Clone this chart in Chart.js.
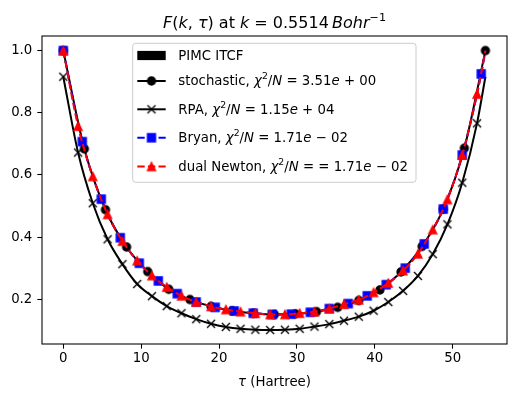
<!DOCTYPE html>
<html><head><meta charset="utf-8">
<script src="https://cdn.jsdelivr.net/npm/chart.js@4.4.0/dist/chart.umd.min.js"></script>
<style>html,body{margin:0;padding:0;background:#fff;}canvas{display:block;}</style>
</head><body>
<canvas id="c" width="516" height="399"></canvas>
<script>
// ---------------- data ----------------
const xTicks = [0, 10, 20, 30, 40, 50];
const yTicks = [0.2, 0.4, 0.6, 0.8, 1.0];

const tauStoch = [0, 2.71, 5.42, 8.13, 10.84, 13.55, 16.26, 18.97, 21.68, 24.39, 27.10, 29.81, 32.52, 35.23, 37.94, 40.65, 43.36, 46.07, 48.78, 51.49, 54.20];
const valStoch = [1.000, 0.684, 0.488, 0.368, 0.289, 0.232, 0.199, 0.177, 0.163, 0.155, 0.151, 0.153, 0.160, 0.174, 0.196, 0.230, 0.288, 0.370, 0.490, 0.686, 1.000];

const tauBryan = [0, 2.44, 4.88, 7.32, 9.76, 12.20, 14.63, 17.07, 19.51, 21.95, 24.39, 26.83, 29.27, 31.71, 34.15, 36.59, 39.02, 41.46, 43.90, 46.34, 48.78, 51.22, 53.66, 54.20];
const valBryan = [1.000, 0.707, 0.522, 0.398, 0.316, 0.259, 0.218, 0.191, 0.174, 0.162, 0.155, 0.151, 0.152, 0.158, 0.170, 0.186, 0.211, 0.247, 0.300, 0.378, 0.490, 0.664, 0.925, 1.000];

const tauGrid7 = [0, 1.90, 3.79, 5.69, 7.59, 9.49, 11.38, 13.28, 15.18, 17.07, 18.97, 20.87, 22.76, 24.66, 26.56, 28.46, 30.35, 32.25, 34.15, 36.04, 37.94, 39.84, 41.73, 43.63, 45.53, 47.43, 49.32, 51.22, 53.12, 54.20];
const valNewton = [1.000, 0.757, 0.595, 0.473, 0.387, 0.324, 0.276, 0.239, 0.211, 0.191, 0.177, 0.167, 0.160, 0.155, 0.151, 0.151, 0.155, 0.160, 0.170, 0.184, 0.198, 0.222, 0.252, 0.292, 0.346, 0.424, 0.521, 0.664, 0.860, 1.000];
const valRPA = [0.916, 0.672, 0.509, 0.393, 0.313, 0.249, 0.210, 0.178, 0.155, 0.136, 0.121, 0.111, 0.105, 0.102, 0.101, 0.102, 0.105, 0.112, 0.120, 0.131, 0.144, 0.163, 0.191, 0.227, 0.275, 0.345, 0.441, 0.575, 0.766, 0.916];

// text
const titleSegs = [['F','i'],['(',''],['k','i'],[', ',''],['\u03C4','i'],[')',''],[' at ',''],['k','i'],[' = ',''],['0.5514',''],['\u2009',''],['Bohr','i'],['\u22121','s']];
const xLabelSegs = [['\u03C4','i'],[' (Hartree)','']];
const labelPIMC = [['PIMC ITCF','']];
const labelStoch = [['stochastic, ',''],['\u03C7','i'],['2','s'],['/',''],['N','i'],[' = ',''],['3.51',''],['e','i'],[' + ',''],['00','']];
const labelRPA = [['RPA, ',''],['\u03C7','i'],['2','s'],['/',''],['N','i'],[' = ',''],['1.15',''],['e','i'],[' + ',''],['04','']];
const labelBryan = [['Bryan, ',''],['\u03C7','i'],['2','s'],['/',''],['N','i'],[' = ',''],['1.71',''],['e','i'],[' \u2212 ',''],['02','']];
const labelNewton = [['dual Newton, ',''],['\u03C7','i'],['2','s'],['/',''],['N','i'],[' = = ',''],['1.71',''],['e','i'],[' \u2212 ',''],['02','']];

// ---------------- styling helpers ----------------
const FONT = '"DejaVu Sans", sans-serif';
const MS = 8, MEW = 1.33, LW = 2, DASH = [7.4, 3.2];

function mk(draw) {
  const c = document.createElement('canvas');
  c.width = 16; c.height = 16;
  const g = c.getContext('2d');
  g.translate(8, 8);
  draw(g);
  return c;
}
const mCircle = mk(g => { g.beginPath(); g.arc(0, 0, MS/2, 0, Math.PI*2); g.fillStyle = '#000'; g.fill(); g.lineWidth = MEW; g.strokeStyle = '#000'; g.stroke(); });
const mSquare = mk(g => { g.beginPath(); g.rect(-MS/2, -MS/2, MS, MS); g.fillStyle = '#0000ff'; g.fill(); g.lineWidth = MEW; g.strokeStyle = '#0000ff'; g.stroke(); });
const mTri = mk(g => { g.beginPath(); g.moveTo(0, -MS/2); g.lineTo(-MS/2, MS/2); g.lineTo(MS/2, MS/2); g.closePath(); g.fillStyle = '#ff0000'; g.fill(); g.lineWidth = MEW; g.lineJoin = 'miter'; g.strokeStyle = '#ff0000'; g.stroke(); });
const mX = mk(g => { g.beginPath(); g.moveTo(-MS/2, -MS/2); g.lineTo(MS/2, MS/2); g.moveTo(-MS/2, MS/2); g.lineTo(MS/2, -MS/2); g.lineWidth = MEW; g.strokeStyle = '#000'; g.stroke(); });

function pts(t, v) { return t.map((x, i) => ({ x: x, y: v[i] })); }
function markAll(n) { return ctx => (ctx.dataIndex < n ? 6 : 0); }

function segFont(size, italic) { return (italic ? 'italic ' : '') + size + 'px ' + FONT; }
function richMeasure(ctx, segs, size) {
  let w = 0;
  for (const [t, s] of segs) { ctx.font = segFont(s === 's' ? size * 0.7 : size, s === 'i'); w += ctx.measureText(t).width; }
  return w;
}
function drawRich(ctx, segs, x, y, size, align) {
  let cx = align === 'center' ? x - richMeasure(ctx, segs, size) / 2 : x;
  ctx.textBaseline = 'alphabetic'; ctx.textAlign = 'left'; ctx.fillStyle = '#000';
  for (const [t, s] of segs) {
    const sup = s === 's';
    ctx.font = segFont(sup ? size * 0.7 : size, s === 'i');
    ctx.fillText(t, cx, y - (sup ? size * 0.42 : 0));
    cx += ctx.measureText(t).width;
  }
}

const legendRows = [
  { type: 'patch', segs: labelPIMC, hy: 55.5, ty: 60.3 },
  { type: 'line', color: '#000', dash: [], marker: mCircle, segs: labelStoch, hy: 81, ty: 85 },
  { type: 'line', color: '#000', dash: [], marker: mX, segs: labelRPA, hy: 109.3, ty: 113.5 },
  { type: 'line', color: '#0000ff', dash: DASH, marker: mSquare, segs: labelBryan, hy: 137.7, ty: 142 },
  { type: 'line', color: '#ff0000', dash: DASH, marker: mTri, segs: labelNewton, hy: 166.5, ty: 170.7 }
];

const decorPlugin = {
  id: 'decor',
  afterDraw(chart) {
    const ctx = chart.ctx, a = chart.chartArea;
    ctx.save();
    // frame
    ctx.strokeStyle = '#000'; ctx.lineWidth = 1.07;
    ctx.strokeRect(a.left, a.top, a.right - a.left, a.bottom - a.top);
    // title and x label
    const cxm = (a.left + a.right) / 2;
    drawRich(ctx, titleSegs, cxm, 27.5, 16, 'center');
    drawRich(ctx, xLabelSegs, cxm, 386, 13.3, 'center');
    // legend
    const lx = 132.7, ly = 43.3, lw = 283.3, lh = 139;
    ctx.beginPath();
    ctx.roundRect(lx, ly, lw, lh, 3);
    ctx.fillStyle = 'rgba(255,255,255,0.8)'; ctx.fill();
    ctx.strokeStyle = '#cccccc'; ctx.lineWidth = 1; ctx.stroke();
    const hx0 = 137.3, hx1 = 165.7, hxm = (hx0 + hx1) / 2, tx = 178.3;
    for (const r of legendRows) {
      if (r.type === 'patch') {
        ctx.fillStyle = '#000';
        ctx.fillRect(hx0, r.hy - 4.6, hx1 - hx0, 9.2);
      } else {
        ctx.beginPath(); ctx.setLineDash(r.dash); ctx.lineDashOffset = 0;
        ctx.strokeStyle = r.color; ctx.lineWidth = LW; ctx.lineCap = 'butt';
        ctx.moveTo(hx0, r.hy); ctx.lineTo(hx1, r.hy); ctx.stroke();
        ctx.setLineDash([]);
        ctx.drawImage(r.marker, hxm - 8, r.hy - 8);
      }
      drawRich(ctx, r.segs, tx, r.ty, 13.3, 'left');
    }
    ctx.restore();
  }
};

const tickFont = { family: 'DejaVu Sans', size: 13.3 };
const gridOpts = { display: true, drawOnChartArea: false, drawTicks: true, tickLength: 4.7, tickWidth: 1.07, tickColor: '#000' };

new Chart(document.getElementById('c'), {
  type: 'line',
  data: {
    datasets: [
      { label: 'stochastic', data: pts(tauStoch, valStoch), borderColor: '#000', borderWidth: LW, pointStyle: mCircle, pointRadius: markAll(tauStoch.length), cubicInterpolationMode: 'monotone', fill: false, order: 4 },
      { label: 'RPA', data: pts(tauGrid7, valRPA), borderColor: '#000', borderWidth: LW, pointStyle: mX, pointRadius: markAll(tauGrid7.length - 1), cubicInterpolationMode: 'monotone', fill: false, order: 3 },
      { label: 'Bryan', data: pts(tauBryan, valBryan), borderColor: '#0000ff', borderWidth: LW, borderDash: DASH, pointStyle: mSquare, pointRadius: markAll(tauBryan.length - 1), cubicInterpolationMode: 'monotone', fill: false, order: 2 },
      { label: 'dual Newton', data: pts(tauGrid7, valNewton), borderColor: '#ff0000', borderWidth: LW, borderDash: DASH, pointStyle: mTri, pointRadius: markAll(tauGrid7.length - 1), cubicInterpolationMode: 'monotone', fill: false, order: 1 }
    ]
  },
  options: {
    responsive: false, animation: false, events: [],
    layout: { padding: { left: 0, right: 9, top: 36, bottom: 0 } },
    plugins: { legend: { display: false }, title: { display: false }, tooltip: { enabled: false } },
    scales: {
      x: {
        type: 'linear', min: -2.73, max: 56.97,
        afterFit: s => { s.height = 55; },
        afterBuildTicks: s => { s.ticks = xTicks.map(v => ({ value: v })); },
        grid: gridOpts, border: { display: false },
        ticks: { color: '#000', font: tickFont, padding: 2, maxRotation: 0, autoSkip: false, callback: v => String(v) }
      },
      y: {
        type: 'linear', min: 0.056, max: 1.047,
        afterFit: s => { s.width = 42; },
        afterBuildTicks: s => { s.ticks = yTicks.map(v => ({ value: v })); },
        grid: gridOpts, border: { display: false },
        ticks: { color: '#000', font: tickFont, padding: 5, autoSkip: false, callback: v => v.toFixed(1) }
      }
    }
  },
  plugins: [decorPlugin]
});
</script>
</body></html>
